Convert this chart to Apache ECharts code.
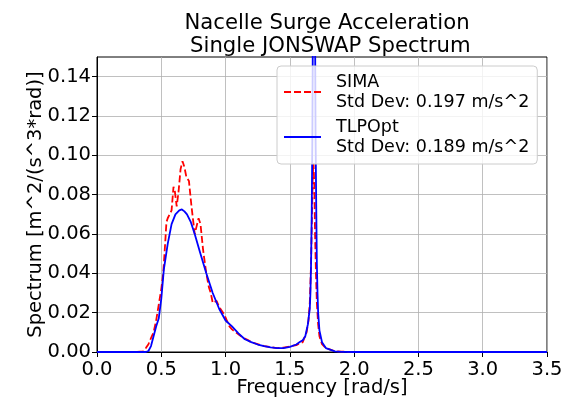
<!DOCTYPE html>
<html>
<head>
<meta charset="utf-8">
<script src="https://cdn.jsdelivr.net/npm/echarts@6/dist/echarts.min.js"></script>
<style>
html,body{margin:0;padding:0;background:#fff;}
#chart{width:577px;height:399px;}
</style>
</head>
<body>
<div id="chart"></div>
<script>
// ---- Data ----
const titleText = "Nacelle Surge Acceleration\n Single JONSWAP Spectrum";
const xLabel = "Frequency [rad/s]";
const yLabel = "Spectrum [m^2/(s^3*rad)]";
const xTicks = [0.0, 0.5, 1.0, 1.5, 2.0, 2.5, 3.0, 3.5];
const yTicks = [0.00, 0.02, 0.04, 0.06, 0.08, 0.10, 0.12, 0.14];

const simaName = "SIMA\nStd Dev: 0.197 m/s^2";
const simaFreq = [0.0, 0.30, 0.36, 0.38, 0.40, 0.42, 0.44, 0.46, 0.48, 0.50, 0.515, 0.53, 0.54, 0.55, 0.565, 0.58, 0.595, 0.605, 0.62, 0.635, 0.65, 0.665, 0.68, 0.695, 0.715, 0.735, 0.76, 0.775, 0.79, 0.805, 0.825, 0.85, 0.87, 0.885, 0.90, 0.915, 0.93, 0.95, 0.97, 0.99, 1.01, 1.03, 1.05, 1.07, 1.09, 1.11, 1.14, 1.17, 1.20, 1.25, 1.30, 1.35, 1.40, 1.45, 1.50, 1.55, 1.58, 1.60, 1.63, 1.645, 1.655, 1.665, 1.672, 1.678, 1.684, 1.69, 1.696, 1.703, 1.71, 1.72, 1.73, 1.75, 1.78, 1.85, 1.90, 2.0, 2.5, 3.0, 3.5];
const simaVal  = [0.0, 0.0, 0.0003, 0.002, 0.004, 0.007, 0.010, 0.016, 0.024, 0.032, 0.040, 0.055, 0.066, 0.068, 0.067, 0.072, 0.084, 0.082, 0.074, 0.082, 0.093, 0.097, 0.094, 0.089, 0.087, 0.074, 0.060, 0.064, 0.068, 0.065, 0.052, 0.040, 0.033, 0.030, 0.025, 0.024, 0.026, 0.023, 0.021, 0.019, 0.016, 0.013, 0.0115, 0.0105, 0.0095, 0.0085, 0.0072, 0.0062, 0.005, 0.004, 0.003, 0.0025, 0.002, 0.0022, 0.0028, 0.0035, 0.0045, 0.005, 0.010, 0.016, 0.025, 0.045, 0.070, 0.090, 0.096, 0.085, 0.060, 0.040, 0.025, 0.014, 0.008, 0.004, 0.002, 0.0004, 0.0002, 0.0, 0.0, 0.0, 0.0];

const tlpName = "TLPOpt\nStd Dev: 0.189 m/s^2";
const tlpFreq = [0.0, 0.30, 0.38, 0.40, 0.42, 0.44, 0.46, 0.48, 0.50, 0.52, 0.55, 0.58, 0.61, 0.64, 0.66, 0.68, 0.70, 0.73, 0.76, 0.80, 0.85, 0.90, 0.95, 1.00, 1.05, 1.10, 1.15, 1.20, 1.25, 1.30, 1.35, 1.40, 1.45, 1.50, 1.55, 1.58, 1.60, 1.62, 1.64, 1.655, 1.66, 1.665, 1.67, 1.675, 1.68, 1.6875, 1.695, 1.70, 1.705, 1.71, 1.715, 1.72, 1.73, 1.75, 1.78, 1.85, 1.90, 2.0, 2.5, 3.0, 3.5];
const tlpVal  = [0.0, 0.0, 0.0, 0.0005, 0.003, 0.008, 0.013, 0.017, 0.027, 0.042, 0.055, 0.065, 0.070, 0.072, 0.0725, 0.0715, 0.070, 0.066, 0.060, 0.051, 0.040, 0.030, 0.022, 0.016, 0.013, 0.0095, 0.0065, 0.005, 0.0038, 0.003, 0.0024, 0.002, 0.002, 0.0026, 0.0038, 0.0052, 0.006, 0.008, 0.014, 0.022, 0.030, 0.045, 0.070, 0.110, 0.180, 0.400, 0.180, 0.110, 0.075, 0.045, 0.030, 0.020, 0.011, 0.005, 0.002, 0.0003, 0.0001, 0.0, 0.0, 0.0, 0.0];

const zip = (xs, ys) => xs.map((x, i) => [x, ys[i]]);

const FONT = "DejaVu Sans";
const chart = echarts.init(document.getElementById('chart'), null, {renderer: 'canvas'});
chart.setOption({
  animation: false,
  backgroundColor: '#fff',
  title: {
    text: titleText,
    left: 322, top: 7, textAlign: 'center',
    textStyle: {fontFamily: FONT, fontSize: 21.2, fontWeight: 'normal', color: '#000', lineHeight: 23}
  },
  grid: {left: 97, right: 30, top: 57, bottom: 47, show: true, borderColor: '#000', borderWidth: 1,
         backgroundColor: 'transparent', containLabel: false, outerBoundsMode: 'none'},
  legend: {
    orient: 'vertical', left: 277, top: 66,
    padding: [6, 8, 7, 6],
    itemGap: 5, itemWidth: 37, itemHeight: 14,
    itemStyle: {opacity: 0},
    backgroundColor: 'rgba(255,255,255,0.8)', borderColor: '#cccccc', borderWidth: 1, borderRadius: 4,
    textStyle: {fontFamily: FONT, fontSize: 17.5, color: '#000', lineHeight: 20, padding: [0, 0, 0, 10]},
    data: [simaName, tlpName]
  },
  xAxis: {
    type: 'value', min: 0, max: 3.5, interval: 0.5,
    name: xLabel, nameLocation: 'middle', nameGap: 26, nameMoveOverlap: false,
    nameTextStyle: {fontFamily: FONT, fontSize: 19.5, color: '#000'},
    axisLine: {show: true, onZero: false, lineStyle: {color: '#000', width: 1}},
    axisTick: {show: true, inside: false, length: 5, lineStyle: {color: '#000'}, customValues: xTicks},
    axisLabel: {fontFamily: FONT, fontSize: 19.5, color: '#000', margin: 8, customValues: xTicks, formatter: v => v.toFixed(1)},
    splitLine: {show: true, lineStyle: {color: '#b0b0b0', width: 0.8}}
  },
  yAxis: {
    type: 'value', min: 0, max: 0.15, interval: 0.02,
    name: yLabel, nameLocation: 'middle', nameGap: 51, nameRotate: 90, nameMoveOverlap: false,
    nameTextStyle: {fontFamily: FONT, fontSize: 19.5, color: '#000'},
    axisLine: {show: true, onZero: false, lineStyle: {color: '#000', width: 1}},
    axisTick: {show: true, inside: false, length: 5, lineStyle: {color: '#000'}, customValues: yTicks},
    axisLabel: {fontFamily: FONT, fontSize: 19.5, color: '#000', margin: 6, customValues: yTicks, formatter: v => v.toFixed(2)},
    splitLine: {show: true, lineStyle: {color: '#b0b0b0', width: 0.8}}
  },
  series: [
    {
      name: simaName, type: 'line', data: zip(simaFreq, simaVal),
      symbol: 'none', smooth: false, clip: true,
      lineStyle: {color: '#ff0000', width: 1.8, type: [7, 3]},
      itemStyle: {color: '#ff0000'}
    },
    {
      name: tlpName, type: 'line', data: zip(tlpFreq, tlpVal),
      symbol: 'none', smooth: false, clip: true,
      lineStyle: {color: '#0000ff', width: 1.8},
      itemStyle: {color: '#0000ff'}
    }
  ]
});
</script>
</body>
</html>
